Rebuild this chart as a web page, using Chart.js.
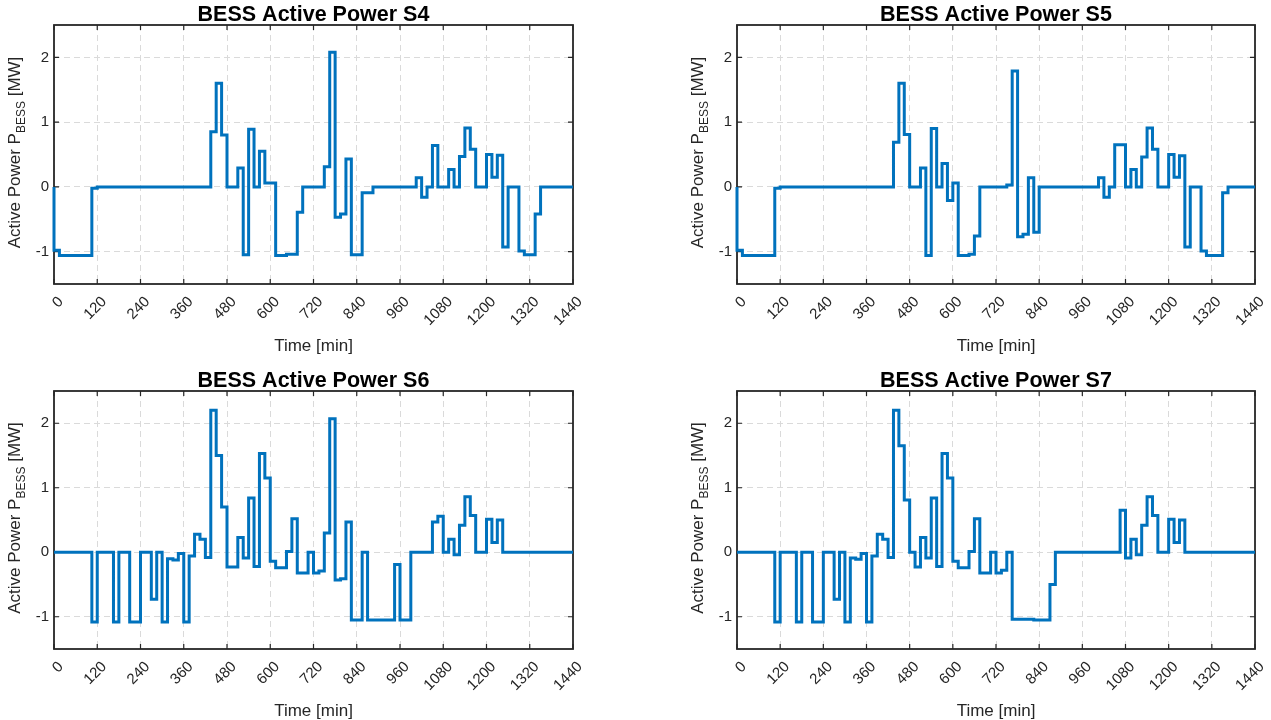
<!DOCTYPE html>
<html>
<head>
<meta charset="utf-8">
<script src="https://cdn.jsdelivr.net/npm/chart.js@4.4.1/dist/chart.umd.min.js"></script>
<style>
  html, body { margin: 0; padding: 0; background: #fff; }
  #wrap { position: relative; width: 1271px; height: 720px; }
  .cell { position: absolute; }
</style>
</head>
<body>
<div id="wrap">
  <div class="cell" style="left:0;top:0;width:636px;height:360px"><canvas id="c4"></canvas></div>
  <div class="cell" style="left:636px;top:0;width:635px;height:360px"><canvas id="c5"></canvas></div>
  <div class="cell" style="left:0;top:360px;width:636px;height:360px"><canvas id="c6"></canvas></div>
  <div class="cell" style="left:636px;top:360px;width:635px;height:360px"><canvas id="c7"></canvas></div>
</div>
<script>
// tick values
const xTicks = [0, 120, 240, 360, 480, 600, 720, 840, 960, 1080, 1200, 1320, 1440];
const yTicks = [-1, 0, 1, 2];

// step start times [min] and power [MW] held until the next time
const s4Times = [0, 0, 15, 105, 120, 435, 450, 465, 480, 510, 525, 540, 555, 570, 585, 615, 645, 675, 690,
  750, 765, 780, 795, 810, 825, 855, 885, 1005, 1020, 1035, 1050, 1065, 1095, 1110, 1125, 1140, 1155,
  1170, 1200, 1215, 1230, 1245, 1260, 1290, 1305, 1335, 1350];
const s4Power = [0, -0.98, -1.06, -0.02, 0, 0.85, 1.6, 0.8, 0, 0.29, -1.05, 0.89, 0, 0.55, 0.06, -1.06, -1.04, -0.39, 0,
  0.31, 2.08, -0.47, -0.42, 0.43, -1.05, -0.09, 0, 0.14, -0.16, 0, 0.64, 0, 0.27, 0, 0.47, 0.91, 0.58,
  0, 0.5, 0.15, 0.49, -0.93, 0, -0.99, -1.05, -0.42, 0];

const s5Times = [0, 0, 15, 105, 120, 435, 450, 465, 480, 510, 525, 540, 555, 570, 585, 600, 615, 645, 660, 675,
  750, 765, 780, 795, 810, 825, 840, 1005, 1020, 1035, 1050, 1080, 1095, 1110, 1125, 1140, 1155,
  1170, 1200, 1215, 1230, 1245, 1260, 1290, 1305, 1350, 1365];
const s5Power = [0, -0.98, -1.06, -0.02, 0, 0.69, 1.6, 0.81, 0, 0.29, -1.06, 0.9, 0, 0.36, -0.21, 0.06, -1.06, -1.04, -0.76, 0,
  0.03, 1.79, -0.77, -0.73, 0.14, -0.7, 0, 0.14, -0.16, 0, 0.65, 0, 0.27, 0, 0.46, 0.91, 0.58,
  0, 0.5, 0.15, 0.48, -0.93, 0, -0.99, -1.06, -0.09, 0];

const s6Times = [0, 105, 120, 165, 180, 210, 240, 270, 285, 300, 315, 330, 345, 360, 375, 390, 405, 420, 435,
  450, 465, 480, 510, 525, 540, 555, 570, 585, 600, 615, 645, 660, 675, 705, 720, 735, 750, 765, 780,
  795, 810, 825, 855, 870, 945, 960, 990, 1050, 1065, 1080, 1095, 1110, 1125, 1140, 1155, 1170, 1200,
  1215, 1230, 1245];
const s6Power = [0, -1.08, 0, -1.08, 0, -1.08, 0, -0.73, 0, -1.08, -0.1, -0.12, -0.02, -1.08, -0.06, 0.28, 0.2, -0.08, 2.2,
  1.5, 0.7, -0.23, 0.23, -0.09, 0.84, -0.22, 1.53, 1.15, -0.14, -0.24, 0.01, 0.52, -0.32, 0, -0.32, -0.29, 0.3, 2.07, -0.43,
  -0.41, 0.47, -1.05, 0, -1.05, -0.19, -1.05, 0, 0.47, 0.56, 0, 0.2, -0.04, 0.42, 0.86, 0.57, 0, 0.51,
  0.15, 0.5, 0];

const s7Times = [0, 105, 120, 165, 180, 210, 240, 270, 285, 300, 315, 330, 345, 360, 375, 390, 405, 420, 435,
  450, 465, 480, 495, 510, 525, 540, 555, 570, 585, 600, 615, 645, 660, 675, 705, 720, 735, 750, 765,
  825, 870, 885, 1065, 1080, 1095, 1110, 1125, 1140, 1155, 1170, 1200, 1215, 1230, 1245];
const s7Power = [0, -1.08, 0, -1.08, 0, -1.08, 0, -0.73, 0, -1.08, -0.09, -0.11, -0.02, -1.08, -0.06, 0.28, 0.2, -0.08, 2.2,
  1.65, 0.81, 0, -0.23, 0.23, -0.09, 0.84, -0.22, 1.53, 1.15, -0.14, -0.24, 0.01, 0.52, -0.32, 0, -0.32, -0.28, 0, -1.04,
  -1.05, -0.5, 0, 0.65, -0.09, 0.2, -0.04, 0.42, 0.86, 0.57, 0, 0.51, 0.15, 0.5, 0];

const FONT = '"Liberation Sans", Arial, sans-serif';
const AXIS_COLOR = '#262626';

function steps(times, values) {
    const pts = times.map((t, i) => ({ x: t, y: values[i] }));
    pts.push({ x: 1440, y: values[values.length - 1] });
    return pts;
}

// box and inner ticks under the line, title and axis labels on top (MATLAB look)
const framePlugin = {
    id: 'frame',
    beforeDatasetsDraw(chart) {
        const { ctx, chartArea: a, scales: { x, y } } = chart;
        const tl = 5;
        ctx.save();
        ctx.strokeStyle = AXIS_COLOR;
        ctx.lineWidth = 1.2;
        ctx.beginPath();
        xTicks.forEach(v => {
            const px = x.getPixelForValue(v);
            ctx.moveTo(px, a.top); ctx.lineTo(px, a.top + tl);
            ctx.moveTo(px, a.bottom); ctx.lineTo(px, a.bottom - tl);
        });
        yTicks.forEach(v => {
            const py = y.getPixelForValue(v);
            ctx.moveTo(a.left, py); ctx.lineTo(a.left + tl, py);
            ctx.moveTo(a.right, py); ctx.lineTo(a.right - tl, py);
        });
        ctx.stroke();
        ctx.lineWidth = 1.8;
        ctx.strokeRect(a.left, a.top, a.right - a.left, a.bottom - a.top);
        ctx.restore();
    },
    afterDraw(chart, args, opts) {
        const { ctx, chartArea: a } = chart;
        ctx.save();
        const cx = (a.left + a.right) / 2;
        ctx.textAlign = 'center';
        ctx.textBaseline = 'alphabetic';
        ctx.fillStyle = '#000';
        ctx.font = 'bold 21.5px ' + FONT;
        ctx.fillText(opts.title, cx, a.top - 4);

        ctx.fillStyle = AXIS_COLOR;
        ctx.font = '17px ' + FONT;
        ctx.fillText('Time [min]', cx, a.bottom + 67);

        // y label with subscript
        const main1 = 'Active Power P', sub = 'BESS', main2 = ' [MW]';
        ctx.font = '17px ' + FONT;
        const w1 = ctx.measureText(main1).width, w2 = ctx.measureText(main2).width;
        ctx.font = '12px ' + FONT;
        const ws = ctx.measureText(sub).width;
        const total = w1 + ws + w2;
        ctx.translate(a.left - 34, (a.top + a.bottom) / 2 - 2);
        ctx.rotate(-Math.PI / 2);
        ctx.textAlign = 'left';
        const x0 = -total / 2;
        ctx.font = '17px ' + FONT;
        ctx.fillText(main1, x0, 0);
        ctx.font = '12px ' + FONT;
        ctx.fillText(sub, x0 + w1, 4.5);
        ctx.font = '17px ' + FONT;
        ctx.fillText(main2, x0 + w1 + ws, 0);
        ctx.restore();
    }
};

function makeChart(id, title, times, values, box) {
    return new Chart(document.getElementById(id), {
        type: 'line',
        data: {
            datasets: [{
                data: steps(times, values),
                stepped: 'before',
                borderColor: '#0072BD',
                borderWidth: 3,
                pointRadius: 0,
                fill: false,
                clip: 4,
                borderJoinStyle: 'miter'
            }]
        },
        options: {
            responsive: true,
            maintainAspectRatio: false,
            animation: false,
            events: [],
            layout: { padding: { top: box.top, right: box.right, left: 0, bottom: 0 } },
            plugins: {
                legend: { display: false },
                tooltip: { enabled: false },
                frame: { title: title }
            },
            scales: {
                x: {
                    type: 'linear',
                    min: 0,
                    max: 1440,
                    afterBuildTicks: s => { s.ticks = xTicks.map(v => ({ value: v })); },
                    afterFit: s => {
                        s.height = box.xHeight;
                        s.paddingLeft = 0;
                        s.paddingRight = 0;
                    },
                    ticks: {
                        minRotation: 45,
                        maxRotation: 45,
                        padding: 9,
                        labelOffset: 7,
                        color: AXIS_COLOR,
                        font: { family: FONT, size: 15 },
                        callback: v => String(v)
                    },
                    grid: { color: '#dadada', lineWidth: 1, drawTicks: false },
                    border: { display: false, dash: [6, 4] }
                },
                y: {
                    min: -1.5,
                    max: 2.5,
                    afterBuildTicks: s => { s.ticks = yTicks.map(v => ({ value: v })); },
                    afterFit: s => { s.width = box.yWidth; },
                    ticks: {
                        padding: 5,
                        color: AXIS_COLOR,
                        font: { family: FONT, size: 15 },
                        callback: v => String(v)
                    },
                    grid: { color: '#dadada', lineWidth: 1, drawTicks: false },
                    border: { display: false, dash: [6, 4] }
                }
            }
        },
        plugins: [framePlugin]
    });
}

makeChart('c4', 'BESS Active Power S4', s4Times, s4Power, { top: 25, right: 63, xHeight: 76, yWidth: 54 });
makeChart('c5', 'BESS Active Power S5', s5Times, s5Power, { top: 25, right: 16, xHeight: 76, yWidth: 101 });
makeChart('c6', 'BESS Active Power S6', s6Times, s6Power, { top: 31, right: 63, xHeight: 71, yWidth: 54 });
makeChart('c7', 'BESS Active Power S7', s7Times, s7Power, { top: 31, right: 16, xHeight: 71, yWidth: 101 });
</script>
</body>
</html>
